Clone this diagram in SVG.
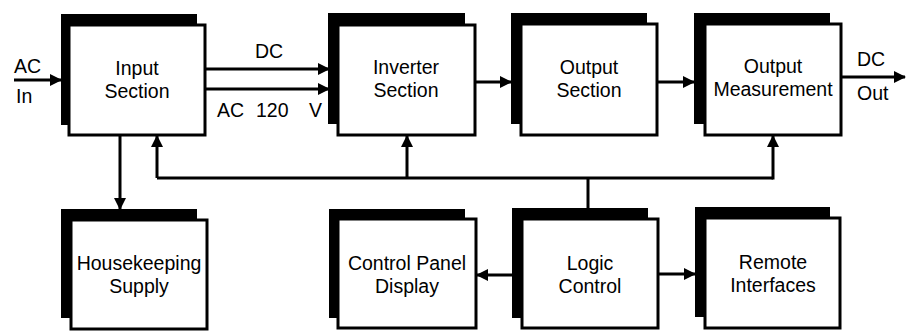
<svg xmlns="http://www.w3.org/2000/svg" width="911" height="331" viewBox="0 0 911 331">
<style>
.sh{fill:#000}
.bx{fill:#fff;stroke:#000;stroke-width:3}
.t{font-family:"Liberation Sans",Arial,sans-serif;font-size:19.5px;fill:#000;text-anchor:middle}
.l{font-family:"Liberation Sans",Arial,sans-serif;font-size:19.5px;fill:#000}
.c{fill:none;stroke:#000;stroke-width:3}
</style>
<defs>
<marker id="ah" markerUnits="userSpaceOnUse" markerWidth="12" markerHeight="12" refX="11" refY="6" orient="auto">
<path d="M0,0 L12,6 L0,12 z" fill="#000"/>
</marker>
</defs>
<rect width="911" height="331" fill="#fff"/>
<g id="input-section">
<rect class="sh" x="61" y="14" width="136" height="111"/>
<rect class="bx" x="69" y="25" width="136" height="110"/>
<text class="t" x="137" y="75">Input</text>
<text class="t" x="137" y="98">Section</text>
</g>
<g id="inverter-section">
<rect class="sh" x="328" y="13" width="137" height="111"/>
<rect class="bx" x="338" y="25" width="137" height="110"/>
<text class="t" x="406" y="74">Inverter</text>
<text class="t" x="406" y="97">Section</text>
</g>
<g id="output-section">
<rect class="sh" x="511" y="13" width="136" height="111"/>
<rect class="bx" x="521" y="24" width="136" height="111"/>
<text class="t" x="589" y="74">Output</text>
<text class="t" x="589" y="97">Section</text>
</g>
<g id="output-measurement">
<rect class="sh" x="694" y="13" width="136" height="111"/>
<rect class="bx" x="705" y="24" width="136" height="111"/>
<text class="t" x="773" y="73">Output</text>
<text class="t" x="773" y="96">Measurement</text>
</g>
<g id="housekeeping-supply">
<rect class="sh" x="61" y="209" width="136" height="109"/>
<rect class="bx" x="71" y="220" width="136" height="109"/>
<text class="t" x="139" y="270">Housekeeping</text>
<text class="t" x="139" y="293">Supply</text>
</g>
<g id="control-panel-display">
<rect class="sh" x="329" y="209" width="136" height="109"/>
<rect class="bx" x="338" y="219" width="138" height="109"/>
<text class="t" x="407" y="270">Control Panel</text>
<text class="t" x="407" y="293">Display</text>
</g>
<g id="logic-control">
<rect class="sh" x="512" y="208" width="136" height="110"/>
<rect class="bx" x="522" y="219" width="136" height="109"/>
<text class="t" x="590" y="270">Logic</text>
<text class="t" x="590" y="293">Control</text>
</g>
<g id="remote-interfaces">
<rect class="sh" x="695" y="207" width="135" height="110"/>
<rect class="bx" x="705" y="218" width="135" height="110"/>
<text class="t" x="773" y="269">Remote</text>
<text class="t" x="773" y="292">Interfaces</text>
</g>
<g id="connectors">
<line class="c" x1="14" y1="80" x2="61" y2="80" marker-end="url(#ah)"/>
<line class="c" x1="205" y1="69" x2="329" y2="69" marker-end="url(#ah)"/>
<line class="c" x1="205" y1="89" x2="329" y2="89" marker-end="url(#ah)"/>
<line class="c" x1="475" y1="82" x2="511" y2="82" marker-end="url(#ah)"/>
<line class="c" x1="657" y1="82" x2="694" y2="82" marker-end="url(#ah)"/>
<line class="c" x1="841" y1="77" x2="905" y2="77" marker-end="url(#ah)"/>
<line class="c" x1="157" y1="178" x2="773" y2="178"/>
<line class="c" x1="157" y1="178" x2="157" y2="136" marker-end="url(#ah)"/>
<line class="c" x1="407" y1="178" x2="407" y2="136" marker-end="url(#ah)"/>
<line class="c" x1="773" y1="179.5" x2="773" y2="136" marker-end="url(#ah)"/>
<line class="c" x1="588" y1="208" x2="588" y2="178"/>
<line class="c" x1="120" y1="136" x2="120" y2="209" marker-end="url(#ah)"/>
<line class="c" x1="522" y1="275" x2="477" y2="275" marker-end="url(#ah)"/>
<line class="c" x1="658" y1="274" x2="695" y2="274" marker-end="url(#ah)"/>
<text class="l" x="14" y="73">AC</text>
<text class="l" x="16" y="103">In</text>
<text class="l" x="255" y="58">DC</text>
<text class="l" x="217" y="117">AC</text>
<text class="l" x="256" y="117">120</text>
<text class="l" x="309" y="117">V</text>
<text class="l" x="857" y="66">DC</text>
<text class="l" x="857" y="100">Out</text>
</g>
</svg>
